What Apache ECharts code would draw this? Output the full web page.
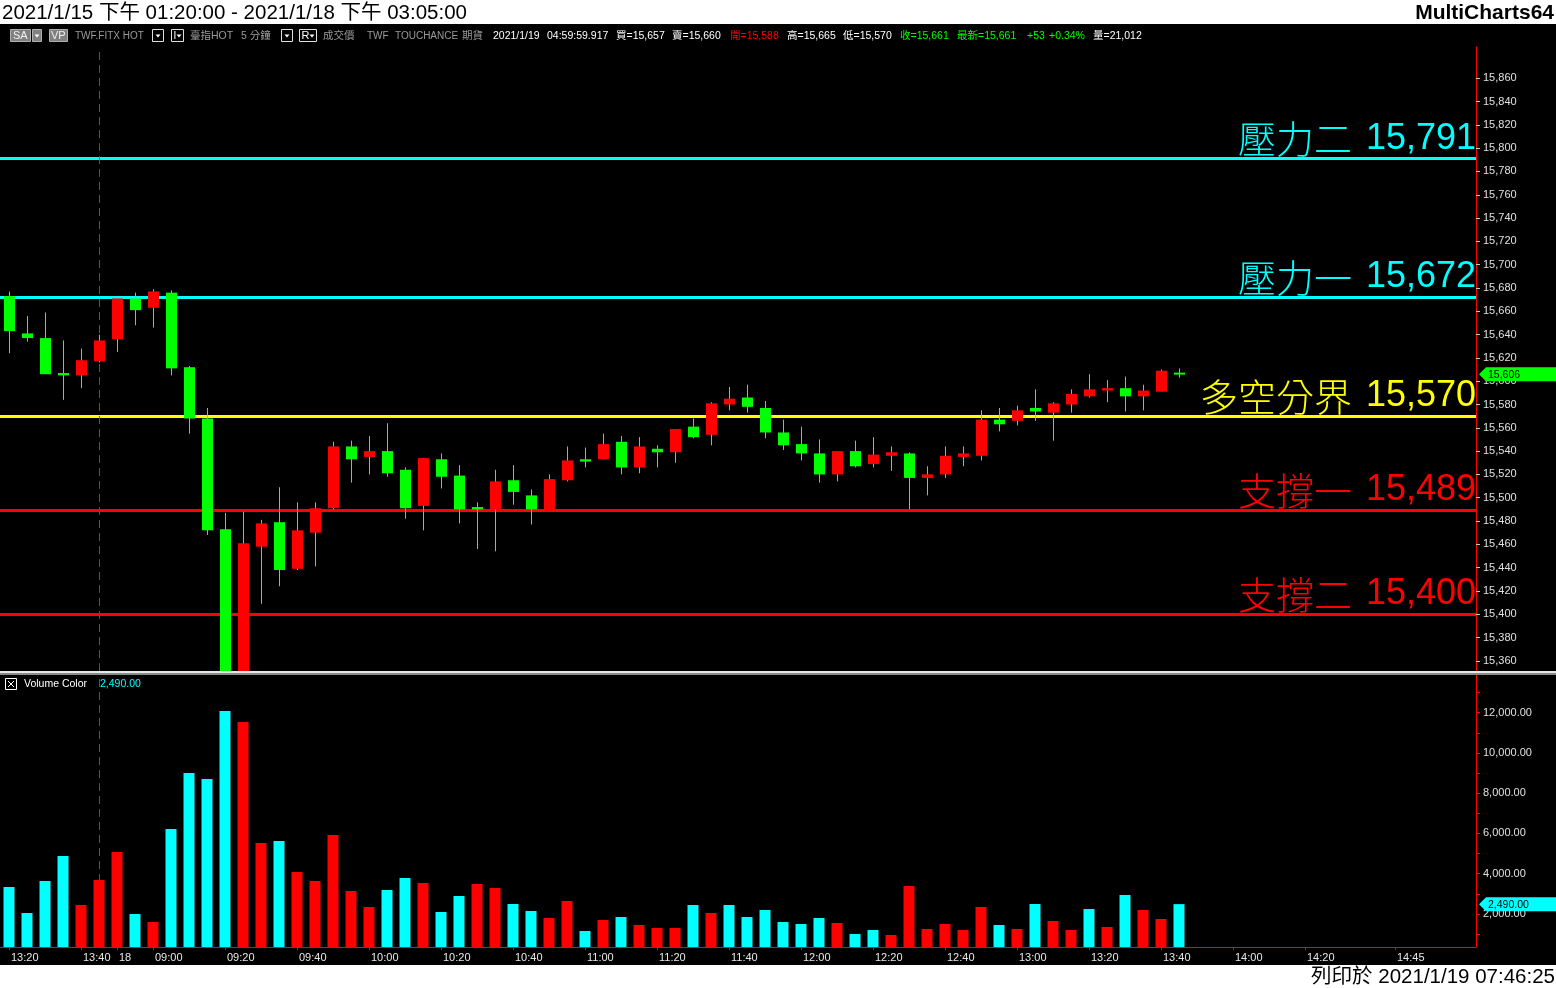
<!DOCTYPE html>
<html><head><meta charset="utf-8">
<script src="https://cdn.jsdelivr.net/npm/echarts@6/dist/echarts.min.js"></script>
<style>
html,body{margin:0;padding:0;background:#000;overflow:hidden;}
#c{width:1556px;height:988px;}
</style></head><body><div id="c"></div>
<script>
// ---------------- DATA ----------------
const times = [
 '1/15 13:20','1/15 13:25','1/15 13:30','1/15 13:35','1/15 13:40','1/15 13:45',
 '1/18 08:50','1/18 08:55','1/18 09:00','1/18 09:05','1/18 09:10','1/18 09:15','1/18 09:20','1/18 09:25','1/18 09:30','1/18 09:35',
 '1/18 09:40','1/18 09:45','1/18 09:50','1/18 09:55','1/18 10:00','1/18 10:05','1/18 10:10','1/18 10:15','1/18 10:20','1/18 10:25',
 '1/18 10:30','1/18 10:35','1/18 10:40','1/18 10:45','1/18 10:50','1/18 10:55','1/18 11:00','1/18 11:05','1/18 11:10','1/18 11:15',
 '1/18 11:20','1/18 11:25','1/18 11:30','1/18 11:35','1/18 11:40','1/18 11:45','1/18 11:50','1/18 11:55','1/18 12:00','1/18 12:05',
 '1/18 12:10','1/18 12:15','1/18 12:20','1/18 12:25','1/18 12:30','1/18 12:35','1/18 12:40','1/18 12:45','1/18 12:50','1/18 12:55',
 '1/18 13:00','1/18 13:05','1/18 13:10','1/18 13:15','1/18 13:20','1/18 13:25','1/18 13:30','1/18 13:35','1/18 13:40','1/18 13:45',
 '1/18 13:50','1/18 13:55','1/18 14:00','1/18 14:05','1/18 14:10','1/18 14:15','1/18 14:20','1/18 14:25','1/18 14:30','1/18 14:35',
 '1/18 14:40','1/18 14:45','1/18 14:50','1/18 14:55','1/18 15:00','1/18 15:05'
];
const opens  = [15673,15641,15637,15607,15605,15617,15636,15671,15663,15676,15612,15568,15473,15345,15458,15479,15439,15470,15491,15544,
 15535,15540,15524,15493,15533,15519,15492,15490,15515,15502,15490,15515,15533,15533,15548,15526,15542,15539,15561,15554,
 15580,15586,15577,15556,15546,15538,15520,15540,15529,15536,15538,15517,15520,15535,15536,15567,15566,15577,15573,15580,
 15587,15592,15594,15587,15591,15607];
const closes = [15643,15637,15606,15605,15618,15635,15671,15661,15677,15611,15568,15472,15340,15461,15478,15438,15472,15491,15544,15533,
 15540,15521,15491,15534,15518,15490,15490,15514,15505,15490,15516,15532,15531,15546,15526,15544,15539,15559,15552,15581,
 15585,15578,15556,15545,15538,15520,15540,15527,15537,15539,15517,15520,15536,15538,15567,15563,15575,15574,15581,15589,
 15593,15594,15587,15592,15609,15606];
const lows   = [15624,15634,15606,15584,15594,15616,15625,15648,15646,15605,15555,15468,15310,15320,15409,15424,15438,15441,15490,15513,
 15520,15518,15482,15472,15508,15478,15456,15454,15494,15477,15490,15514,15526,15533,15520,15521,15526,15530,15551,15545,
 15575,15573,15551,15541,15532,15513,15514,15526,15526,15523,15490,15502,15517,15527,15532,15557,15562,15566,15549,15573,
 15586,15582,15574,15575,15591,15603];
const highs  = [15677,15656,15659,15635,15628,15640,15672,15676,15679,15678,15613,15577,15487,15488,15481,15509,15496,15496,15548,15549,
 15553,15564,15526,15534,15538,15528,15496,15524,15528,15507,15520,15544,15543,15555,15553,15552,15545,15559,15568,15582,
 15595,15597,15583,15567,15561,15550,15540,15549,15552,15544,15539,15527,15544,15544,15575,15577,15579,15593,15582,15593,
 15606,15601,15604,15597,15610,15611];
const volumes = [3341,2050,3639,4881,2447,3689,5080,2000,1603,6222,9004,8705,12083,11537,5527,5626,4086,3639,5924,3142,
 2348,3192,3788,3540,2099,2894,3490,3291,2497,2149,1801,2646,1156,1702,1851,1454,1305,1305,2447,2050,
 2447,1851,2199,1603,1503,1801,1553,1007,1205,957,3391,1255,1503,1205,2348,1454,1255,2497,1652,1205,
 2248,1354,2944,2199,1752,2490];
// volume colour class: 'R' = up (red), 'C' = down (cyan)
const volDir = ['C','C','C','C','R','R','R','C','R','C','C','C','C','R','R','C','R','R','R','R',
 'R','C','C','R','C','C','R','R','C','C','R','R','C','R','C','R','R','R','C','R',
 'C','C','C','C','C','C','R','C','C','R','R','R','R','R','R','C','R','C','R','R',
 'C','R','C','R','R','C'];
const levelNames  = ['壓力二','壓力一','多空分界','支撐一','支撐二'];
const levelValues = [15791,15672,15570,15489,15400];
const priceLabels = [15360,15380,15400,15420,15440,15460,15480,15500,15520,15540,15560,15580,15600,15620,15640,15660,15680,15700,15720,15740,15760,15780,15800,15820,15840,15860];
const volLabels = [2000,4000,6000,8000,10000,12000];
const volTickMarks = [1000,2000,3000,4000,5000,6000,7000,8000,9000,10000,11000,12000,13000];
const xLabelText = {0:'13:20',4:'13:40',6:'18',8:'09:00',12:'09:20',16:'09:40',20:'10:00',24:'10:20',28:'10:40',32:'11:00',36:'11:20',40:'11:40',44:'12:00',48:'12:20',52:'12:40',56:'13:00',60:'13:20',64:'13:40',68:'14:00',72:'14:20',77:'14:45'};
const sessionBreakIndex = 5;
const lastPrice = 15606;
const lastVolume = 2490;
const titleText = '2021/1/15 下午 01:20:00 - 2021/1/18 下午 03:05:00';
const printText = '列印於 2021/1/19 07:46:25';

// ---------------- CHART ----------------
const F = '"Liberation Sans", Arial, "Noto Sans CJK TC", sans-serif';
const CJK = '"Noto Sans CJK TC", "Noto Sans CJK SC", sans-serif';
const levelColors = ['#00ffff','#00ffff','#ffff00','#ff0000','#ff0000'];
const fmt = v => String(Math.round(v)).replace(/\B(?=(\d{3})+(?!\d))/g, ',');
const fmt2 = v => fmt(v) + '.00';

const chart = echarts.init(document.getElementById('c'), null, {renderer:'canvas', width:1556, height:988});

function renderCandle(params, api) {
  const i = api.value(0), o = api.value(1), c = api.value(2), l = api.value(3), h = api.value(4);
  const cs = params.coordSys;
  const clampY = y => Math.max(cs.y, Math.min(cs.y + cs.height, y));
  const pO = api.coord([i, o]), pC = api.coord([i, c]), pL = api.coord([i, l]), pH = api.coord([i, h]);
  const w = api.size([1, 0])[0] * 11 / 18;
  const cx = Math.round(pO[0]) + 0.5;
  let top = clampY(Math.min(pO[1], pC[1])), bot = clampY(Math.max(pO[1], pC[1]));
  if (bot - top < 2) { const m = (top + bot) / 2; top = m - 1; bot = m + 1; }
  const up = c >= o;
  return {type:'group', children:[
    {type:'line', shape:{x1:cx, y1:clampY(pH[1]), x2:cx, y2:clampY(pL[1])}, style:{stroke:'#a8a8a8', lineWidth:1}},
    {type:'rect', shape:{x:Math.round(cx - w/2), y:top, width:Math.round(w), height:bot - top}, style:{fill: up ? '#ff0000' : '#00ff00'}}
  ]};
}

const levelMarks = levelValues.map((v, k) => ({
  yAxis: v,
  lineStyle: {color: levelColors[k], width: 3, type: 'solid'},
  label: {show:true, position:'insideEndTop', distance:[0, 1],
          formatter: '{c|' + levelNames[k] + '}{d|' + fmt(v) + '}',
          color: levelColors[k],
          rich: {
            c: {fontSize: 38, fontFamily: CJK, color: levelColors[k], fontWeight: 300},
            d: {fontSize: 36, fontFamily: F, color: levelColors[k], padding:[0, 0, 0, 14]}
          }}
}));
levelMarks.push({xAxis: sessionBreakIndex, lineStyle:{color:'#555', width:1, type:[8,5]}, label:{show:false}});

const option = {
  backgroundColor: '#000',
  animation: false,
  grid: [
    {left:0, right:80, top:47, height:624},
    {left:0, right:80, top:675, height:272}
  ],
  xAxis: [
    {type:'category', gridIndex:0, data:times, axisLine:{show:false}, axisTick:{show:false}, axisLabel:{show:false}, splitLine:{show:false}},
    {type:'category', gridIndex:1, data:times,
     axisLine:{show:true, lineStyle:{color:'#ff0000', width:1}},
     axisTick:{show:true, alignWithLabel:true, length:3, interval:(i)=> (i in xLabelText), lineStyle:{color:'#ff0000'}},
     axisLabel:{interval:(i)=> (i in xLabelText), formatter:(v, i)=> xLabelText[i] || '', color:'#e8e8e8', fontSize:11, fontFamily:F, align:'left', padding:[0,0,0,2], margin:5},
     splitLine:{show:false}}
  ],
  yAxis: [
    {type:'value', gridIndex:0, position:'right', min:15351.3, max:15886.8, scale:true,
     splitLine:{show:false},
     axisLine:{show:true, lineStyle:{color:'#ff0000'}},
     axisTick:{show:true, length:4, lineStyle:{color:'#c8c8c8'}, customValues:priceLabels},
     axisLabel:{customValues:priceLabels, formatter:fmt, color:'#e0e0e0', fontSize:11, fontFamily:F, margin:7}},
    {type:'value', gridIndex:1, position:'right', min:361, max:13871, scale:true,
     splitLine:{show:false},
     axisLine:{show:true, lineStyle:{color:'#ff0000'}},
     axisTick:{show:true, length:4, lineStyle:{color:'#ff0000'}, customValues:volTickMarks},
     axisLabel:{customValues:volLabels, formatter:fmt2, color:'#e0e0e0', fontSize:11, fontFamily:F, margin:7}}
  ],
  series: [
    {type:'custom', name:'price', xAxisIndex:0, yAxisIndex:0,
     data: opens.map((o, i) => [i, o, closes[i], lows[i], highs[i]]),
     encode:{x:0, y:[1,2,3,4]}, renderItem: renderCandle, z:5,
     markLine:{silent:true, symbol:['none','none'], animation:false, data: levelMarks}},
    {type:'bar', name:'volume', xAxisIndex:1, yAxisIndex:1, barWidth:11, z:5,
     data: volumes.map((v, i) => ({value:v, itemStyle:{color: volDir[i] === 'R' ? '#ff0000' : '#00ffff'}})),
     markLine:{silent:true, symbol:['none','none'], animation:false, z:1,
       data:[{xAxis: sessionBreakIndex, lineStyle:{color:'#555', width:1, type:[8,5]}, label:{show:false}}]}}
  ]
};
chart.setOption(option);

// ---------------- decorations ----------------
const IY = 36;
function txt(x, y, text, color, size, extra) {
  return {type:'text', z:100, silent:true, style:Object.assign({x:x, y:y, text:text, fill:color, fontSize:size, fontFamily:F, verticalAlign:'middle'}, extra || {})};
}
function rect(x, y, w, h, fill, stroke) {
  return {type:'rect', z:100, silent:true, shape:{x:x, y:y, width:w, height:h}, style:{fill:fill || 'none', stroke:stroke || 'none', lineWidth:1}};
}
function tri(x, y) {
  return {type:'polygon', z:101, silent:true, shape:{points:[[x, y], [x+5, y], [x+2.5, y+3]]}, style:{fill:'#ffffff'}};
}
const g = [];
// title bar
g.push(rect(0, 0, 1556, 24, '#ffffff'));
g.push(txt(2, 13, titleText, '#000', 20.5, {}));
g.push(txt(1554, 13, 'MultiCharts64', '#000', 21, {align:'right', fontWeight:'bold'}));
// print bar
g.push(rect(0, 965, 1556, 23, '#ffffff'));
g.push(txt(1555, 977, printText, '#000', 20.5, {align:'right'}));
// info bar
const BY = 29.5, BH = 12;
g.push(rect(10.5, BY, 20, BH, '#808080', '#b0b0b0'));
g.push(txt(13, IY, 'SA', '#f0f0f0', 11));
g.push(rect(32.5, BY, 9, BH, '#808080', '#b0b0b0'));
g.push(tri(34.5, 34.5));
g.push(rect(49.5, BY, 18, BH, '#808080', '#b0b0b0'));
g.push(txt(51, IY, 'VP', '#f0f0f0', 11));
g.push(txt(75, IY, 'TWF.FITX HOT', '#9a9a9a', 10));
g.push(rect(152.5, BY, 11, BH, '#000', '#e0e0e0'));
g.push(tri(155.5, 34.5));
g.push(rect(171.5, BY, 12, BH, '#000', '#e0e0e0'));
g.push(txt(173.5, IY, 'I', '#ffffff', 10));
g.push(tri(176.5, 34.5));
g.push(txt(190, IY, '臺指HOT', '#9a9a9a', 10.5));
g.push(txt(241, IY, '5 分鐘', '#9a9a9a', 10.5));
g.push(rect(281.5, BY, 11, BH, '#000', '#e0e0e0'));
g.push(tri(284.5, 34.5));
g.push(rect(299.5, BY, 17, BH, '#000', '#e0e0e0'));
g.push(txt(301.5, IY, 'R', '#ffffff', 11));
g.push(tri(309.5, 34.5));
g.push(txt(323, IY, '成交價', '#9a9a9a', 10.5));
g.push(txt(367, IY, 'TWF', '#9a9a9a', 10));
g.push(txt(395, IY, 'TOUCHANCE', '#9a9a9a', 10));
g.push(txt(462, IY, '期貨', '#9a9a9a', 10.5));
const info = [
  [493, '2021/1/19', '#ffffff'], [547, '04:59:59.917', '#ffffff'], [616, '買=15,657', '#ffffff'], [672, '賣=15,660', '#ffffff'],
  [730, '開=15,588', '#ff0000'], [787, '高=15,665', '#ffffff'], [843, '低=15,570', '#ffffff'], [900, '收=15,661', '#00ff00'],
  [957, '最新=15,661', '#00ff00'], [1027, '+53', '#00ff00'], [1049, '+0.34%', '#00ff00'], [1093, '量=21,012', '#ffffff']
];
info.forEach(a => g.push(txt(a[0], IY, a[1], a[2], 10.5)));
// pane separator
g.push(rect(0, 671, 1556, 2, '#e8e8e8'));
g.push(rect(0, 673, 1556, 2, '#8a8a8a'));
// volume legend
g.push(rect(5.5, 678.5, 11, 11, 'none', '#ffffff'));
g.push({type:'line', z:101, silent:true, shape:{x1:8, y1:681, x2:14, y2:687}, style:{stroke:'#fff', lineWidth:1}});
g.push({type:'line', z:101, silent:true, shape:{x1:14, y1:681, x2:8, y2:687}, style:{stroke:'#fff', lineWidth:1}});
g.push(txt(24, 684.5, 'Volume Color', '#ffffff', 10.5));
g.push(txt(100, 684.5, fmt2(lastVolume), '#00ffff', 10.5));
// last value tags
const yP = chart.convertToPixel({yAxisIndex:0}, lastPrice);
const yV = chart.convertToPixel({yAxisIndex:1}, lastVolume);
function tag(y, color, text) {
  g.push({type:'polygon', z:110, silent:true, shape:{points:[[1479, y], [1486, y-7], [1556, y-7], [1556, y+7], [1486, y+7]]}, style:{fill:color}});
  g.push(Object.assign(txt(1488, y + 0.5, text, '#000', 10.5), {z:111}));
}
tag(yP, '#00ff00', fmt(lastPrice));
tag(yV, '#00ffff', fmt2(lastVolume));
chart.setOption({graphic: g});
</script></body></html>
